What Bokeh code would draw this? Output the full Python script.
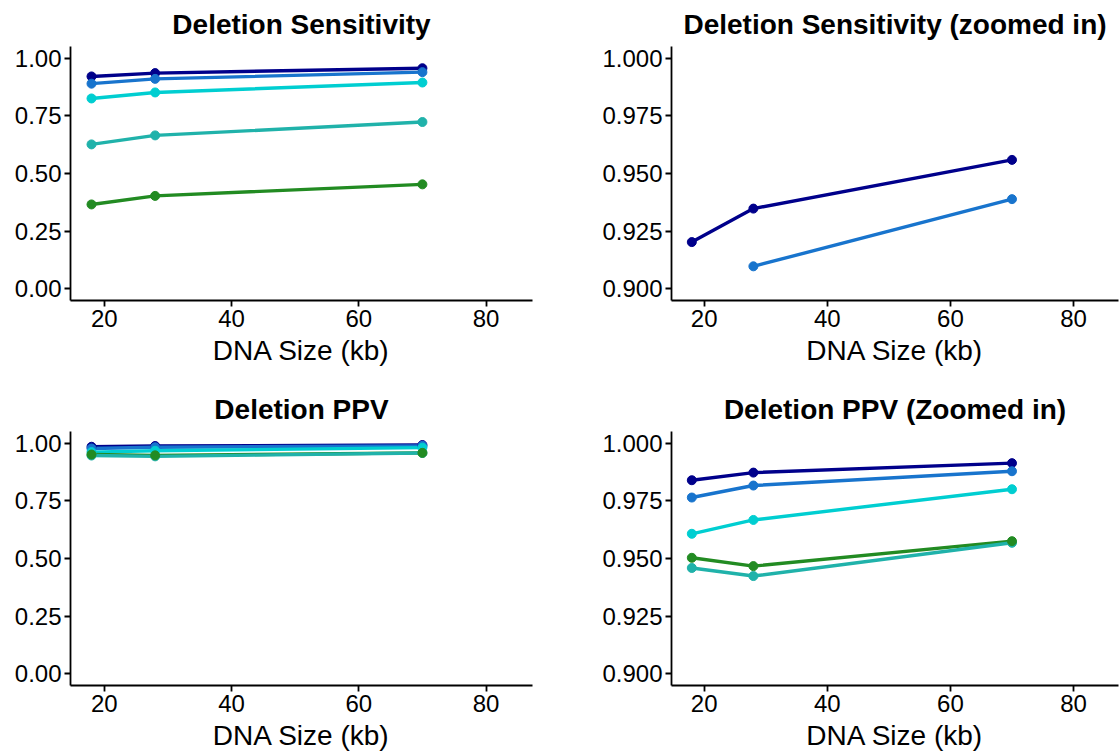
from bokeh.plotting import figure
from bokeh.layouts import column, row
from bokeh.models import Range1d, FixedTicker, PrintfTickFormatter
from bokeh.embed import file_html
from bokeh.resources import INLINE

# ---- data ----
dna_size = [18, 28, 70]
x_ticks = [20, 40, 60, 80]

sens_navy = [0.9203, 0.9348, 0.9559]
sens_blue = [0.889, 0.9098, 0.9389]
sens_cyan = [0.825, 0.851, 0.894]
sens_lsg = [0.626, 0.665, 0.723]
sens_green = [0.366, 0.403, 0.453]

ppv_navy = [0.9839, 0.9872, 0.9913]
ppv_blue = [0.9764, 0.9816, 0.9878]
ppv_cyan = [0.9607, 0.9667, 0.9800]
ppv_lsg = [0.9459, 0.9424, 0.9568]
ppv_green = [0.9503, 0.9467, 0.9575]

colors = ["#00008B", "#1874CD", "#00CED1", "#20B2AA", "#228B22"]
sens_series = [sens_navy, sens_blue, sens_cyan, sens_lsg, sens_green]
ppv_series = [ppv_navy, ppv_blue, ppv_cyan, ppv_lsg, ppv_green]

# drawing order (later = on top)
line_order = [0, 1, 2, 4, 3]
point_order = [0, 1, 2, 3, 4]

full_ticks = [0.0, 0.25, 0.5, 0.75, 1.0]
zoom_ticks = [0.9, 0.925, 0.95, 0.975, 1.0]

FONT = "Liberation Sans"


def make_panel(title, series, ylim, yticks, fmt, width, height,
               bl, br, bt, bb):
    lo, hi = ylim
    pad = (hi - lo) * 0.05
    p = figure(width=width, height=height, output_backend="svg",
               toolbar_location=None, tools="",
               x_range=Range1d(14.7, 87.3),
               y_range=Range1d(lo - pad, hi + pad),
               min_border_left=bl, min_border_right=br,
               min_border_top=bt, min_border_bottom=bb)
    p.title.text = title
    p.title.align = "center"
    p.title.text_font = FONT
    p.title.text_font_size = "28px"
    p.title.text_font_style = "bold"
    p.title.text_color = "black"
    p.title.standoff = 13
    p.outline_line_color = None
    p.xgrid.visible = False
    p.ygrid.visible = False
    p.background_fill_color = "white"
    p.border_fill_color = "white"

    # keep only points inside the y limits (as the original does)
    for i in line_order:
        vals, c = series[i], colors[i]
        xs = [x for x, v in zip(dna_size, vals) if lo <= v <= hi]
        ys = [v for v in vals if lo <= v <= hi]
        if len(xs) >= 2:
            p.line(xs, ys, line_color=c, line_width=3.4)
    for i in point_order:
        vals, c = series[i], colors[i]
        xs = [x for x, v in zip(dna_size, vals) if lo <= v <= hi]
        ys = [v for v in vals if lo <= v <= hi]
        if xs:
            p.scatter(xs, ys, size=9, fill_color=c, line_color=c)

    p.xaxis.ticker = FixedTicker(ticks=x_ticks)
    p.yaxis.ticker = FixedTicker(ticks=yticks)
    p.yaxis.formatter = PrintfTickFormatter(format=fmt)
    p.xaxis.axis_label = "DNA Size (kb)"
    for ax in (p.xaxis[0], p.yaxis[0]):
        ax.axis_line_color = "black"
        ax.axis_line_width = 1.8
        ax.major_tick_line_color = "black"
        ax.major_tick_line_width = 1.8
        ax.major_tick_out = 6
        ax.major_tick_in = 0
        ax.minor_tick_line_color = None
        ax.major_label_text_font = FONT
        ax.major_label_text_font_size = "24px"
        ax.major_label_text_color = "black"
        ax.major_label_standoff = 3
        ax.axis_label_text_font = FONT
        ax.axis_label_text_font_size = "28px"
        ax.axis_label_text_font_style = "normal"
        ax.axis_label_text_color = "black"
        ax.axis_label_standoff = 5
    return p


p1 = make_panel("Deletion Sensitivity", sens_series, (0.0, 1.0), full_ticks, "%.2f",
                560, 385, 70, 28, 46, 85)
p2 = make_panel("Deletion Sensitivity (zoomed in)", sens_series, (0.9, 1.0), zoom_ticks, "%.3f",
                560, 385, 111, 2, 46, 85)
p3 = make_panel("Deletion PPV", ppv_series, (0.0, 1.0), full_ticks, "%.2f",
                560, 370, 70, 28, 46, 70)
p4 = make_panel("Deletion PPV (Zoomed in)", ppv_series, (0.9, 1.0), zoom_ticks, "%.3f",
                560, 370, 111, 2, 46, 70)

layout = column(row(p1, p2, spacing=0), row(p3, p4, spacing=0), spacing=0)

open("out.html", "w").write(file_html(layout, INLINE))
